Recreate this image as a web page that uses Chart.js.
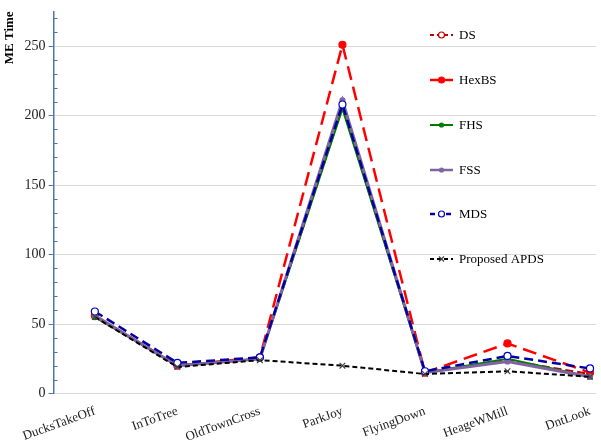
<!DOCTYPE html>
<html>
<head>
<meta charset="utf-8">
<script src="https://cdn.jsdelivr.net/npm/chart.js@4/dist/chart.umd.min.js"></script>
<style>
  html, body { margin: 0; padding: 0; background: #fff; }
  #wrap { width: 601px; height: 447px; position: relative; }
</style>
</head>
<body>
<div id="wrap"><canvas id="myChart"></canvas></div>
<script>
const categories = ['DucksTakeOff', 'InToTree', 'OldTownCross', 'ParkJoy', 'FlyingDown', 'HeageWMill', 'DntLook'];

const dsValues    = [56, 20, 25, 206, 15, 24, 14];
const hexbsValues = [56, 20, 26, 251, 15, 36, 15];
const fhsValues   = [55, 20, 25, 205, 15, 25, 12];
const fssValues   = [56, 20, 25, 211, 15, 23, 12];
const mdsValues   = [59, 22, 26, 208, 16, 27, 18];
const apdsValues  = [55, 19, 24, 20, 14, 16, 12];

const yTicks = [0, 50, 100, 150, 200, 250];

const font = '"Liberation Serif", "Times New Roman", serif';

function toPoints(values) {
    return values.map((v, i) => ({ x: i, y: v }));
}

// minor tick marks on the y axis + legend drawn inside the plot
const extras = {
    id: 'extras',
    afterDraw(chart) {
        const c = chart.ctx;
        const y = chart.scales.y;
        const left = chart.chartArea.left;
        c.save();
        c.strokeStyle = '#4f76b0';
        c.lineWidth = 1;
        for (let v = 10; v < 275; v += 10) {
            if (v % 50 === 0) continue;
            const py = Math.round(y.getPixelForValue(v)) + 0.5;
            c.beginPath();
            c.moveTo(left, py);
            c.lineTo(left + 4, py);
            c.stroke();
        }

        // legend
        const lx = 430, tx = 459;
        const rows = [35, 80, 125, 170, 214, 259];
        c.font = '13px ' + font;
        c.textBaseline = 'middle';
        chart.data.datasets.forEach((ds, i) => {
            const ly = rows[i];
            c.strokeStyle = ds.borderColor;
            c.lineWidth = Math.min(ds.borderWidth, 2.5);
            c.setLineDash(ds.legendDash || []);
            c.beginPath();
            c.moveTo(lx, ly);
            c.lineTo(lx + 23, ly);
            c.stroke();
            c.setLineDash([]);
            c.fillStyle = ds.backgroundColor;
            c.strokeStyle = ds.pointBorderColor || ds.borderColor;
            c.lineWidth = 1.2;
            Chart.helpers.drawPoint(c, {
                pointStyle: ds.pointStyle,
                radius: ds.legendRadius,
                borderWidth: 1.2
            }, lx + 11.5, ly);
            c.fillStyle = '#000';
            c.fillText(ds.label, tx, ly + 1);
        });
        c.restore();
    }
};

Chart.defaults.font.family = font;
Chart.defaults.color = '#222';

const ctx = document.getElementById('myChart').getContext('2d');
const myChart = new Chart(ctx, {
    type: 'line',
    data: {
        datasets: [{
            label: 'DS',
            data: toPoints(dsValues),
            order: 6,
            borderColor: '#c00000',
            backgroundColor: '#ffffff',
            pointBorderColor: '#c00000',
            borderWidth: 2,
            borderDash: [8, 4],
            legendDash: [4, 3],
            pointStyle: 'circle',
            pointRadius: 2.5,
            legendRadius: 3
        }, {
            label: 'HexBS',
            data: toPoints(hexbsValues),
            order: 5,
            borderColor: '#ff0000',
            backgroundColor: '#ff0000',
            borderWidth: 2.5,
            borderDash: [14, 7],
            pointStyle: 'circle',
            pointRadius: 3.5,
            legendRadius: 3
        }, {
            label: 'FHS',
            data: toPoints(fhsValues),
            order: 4,
            borderColor: '#007a00',
            backgroundColor: '#007a00',
            borderWidth: 2,
            pointStyle: 'circle',
            pointRadius: 2.5,
            legendRadius: 2
        }, {
            label: 'FSS',
            data: toPoints(fssValues),
            order: 3,
            borderColor: '#8064a2',
            backgroundColor: '#8064a2',
            borderWidth: 3,
            pointStyle: 'circle',
            pointRadius: 2.5,
            legendRadius: 2
        }, {
            label: 'MDS',
            data: toPoints(mdsValues),
            order: 2,
            borderColor: '#0000a0',
            backgroundColor: '#ffffff',
            pointBorderColor: '#0000cc',
            borderWidth: 2.5,
            borderDash: [9, 5],
            legendDash: [5, 3],
            pointStyle: 'circle',
            pointRadius: 3.5,
            legendRadius: 3
        }, {
            label: 'Proposed APDS',
            data: toPoints(apdsValues),
            order: 1,
            borderColor: '#000000',
            backgroundColor: '#000000',
            pointBorderColor: '#444444',
            borderWidth: 2,
            borderDash: [5, 3],
            legendDash: [4, 3],
            pointStyle: 'crossRot',
            pointRadius: 4,
            legendRadius: 3.5
        }]
    },
    options: {
        responsive: true,
        maintainAspectRatio: false,
        animation: false,
        layout: { padding: { left: 2, right: 1, top: 4, bottom: 0 } },
        elements: {
            line: { tension: 0, fill: false },
            point: { pointBorderWidth: 1.2 }
        },
        plugins: {
            legend: { display: false },
            tooltip: { enabled: false }
        },
        scales: {
            x: {
                type: 'linear',
                min: -0.5,
                max: 6.07,
                afterBuildTicks: scale => {
                    scale.ticks = categories.map((_, i) => ({ value: i }));
                },
                ticks: {
                    callback: v => categories[v],
                    minRotation: 20,
                    maxRotation: 20,
                    padding: 2,
                    font: { size: 13 },
                    color: '#222'
                },
                grid: { display: false },
                border: { display: false }
            },
            y: {
                min: 0,
                max: 275,
                afterBuildTicks: scale => {
                    scale.ticks = yTicks.map(v => ({ value: v }));
                },
                ticks: {
                    font: { size: 14 },
                    color: '#222',
                    padding: 3
                },
                grid: {
                    color: '#d9d9d9',
                    lineWidth: 1,
                    tickColor: '#4f76b0',
                    tickLength: 5
                },
                border: { color: '#4f76b0', width: 1.5 },
                title: {
                    display: true,
                    text: 'ME Time',
                    align: 'end',
                    font: { size: 13, weight: 'bold' },
                    color: '#000',
                    padding: { top: 0, bottom: 4 }
                }
            }
        }
    },
    plugins: [extras]
});
</script>
</body>
</html>
